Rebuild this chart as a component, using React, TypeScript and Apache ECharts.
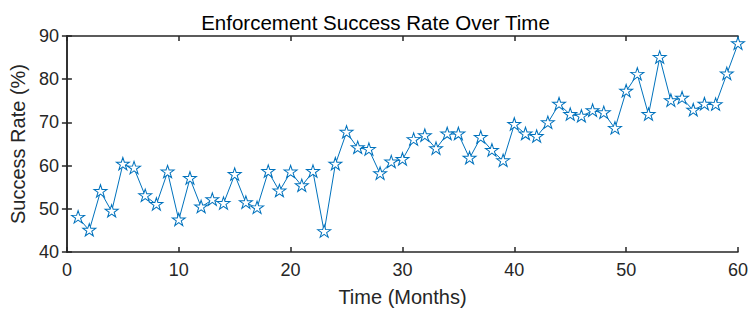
import React, { useEffect, useRef } from "react";
import * as echarts from "echarts";

const months: number[] = Array.from({ length: 60 }, (_, i) => i + 1);
const successRate: number[] = [
  48.0, 45.0, 54.0, 49.4, 60.3, 59.4, 53.0, 51.0, 58.5, 47.4,
  57.0, 50.4, 52.1, 51.2, 57.9, 51.4, 50.2, 58.6, 54.1, 58.5,
  55.3, 58.6, 44.7, 60.3, 67.7, 64.1, 63.7, 58.1, 60.8, 61.4,
  66.0, 66.9, 63.9, 67.3, 67.3, 61.7, 66.5, 63.5, 61.1, 69.5,
  67.3, 66.7, 69.9, 74.2, 71.8, 71.4, 72.7, 72.2, 68.6, 77.2,
  81.1, 71.8, 85.0, 75.0, 75.6, 72.8, 74.2, 74.1, 81.2, 88.2,
];
const xTicks = { min: 0, max: 60, interval: 10 };
const yTicks = { min: 40, max: 90, interval: 10 };

const STAR =
  "path://M0,-50L11.23,-15.45L47.55,-15.45L18.17,5.9L29.39,40.45L0,19.1L-29.39,40.45L-18.17,5.9L-47.55,-15.45L-11.23,-15.45Z";

const FONT = "'Liberation Sans', Arial, Helvetica, sans-serif";
const AX = "#262626";
const BLUE = "#0072BD";

export default function App() {
  const ref = useRef<HTMLDivElement>(null);
  useEffect(() => {
    if (!ref.current) return;
    const chart = echarts.init(ref.current, undefined, { renderer: "svg" });
    const axisCommon = {
      type: "value" as const,
      axisLine: { show: true, lineStyle: { color: AX, width: 1.5 } },
      axisTick: { show: true, inside: true, length: 5, lineStyle: { color: AX, width: 1.5 } },
      splitLine: { show: false },
    };
    chart.setOption({
      animation: false,
      backgroundColor: "#ffffff",
      textStyle: { fontFamily: FONT },
      title: {
        text: "Enforcement Success Rate Over Time",
        left: "center",
        top: 7,
        textStyle: { fontFamily: FONT, fontSize: 20.5, fontWeight: "normal", color: "#000" },
      },
      grid: { left: 65, right: 9, top: 36, bottom: 55, containLabel: false },
      xAxis: [
        {
          ...axisCommon,
          ...xTicks,
          position: "bottom",
          name: "Time (Months)",
          nameLocation: "middle",
          nameGap: 35,
          nameTextStyle: { fontFamily: FONT, fontSize: 20, color: AX },
          axisLabel: { fontFamily: FONT, fontSize: 18, color: AX, margin: 9 },
        },
        {
          ...axisCommon,
          ...xTicks,
          position: "top",
          axisLabel: { show: false },
        },
      ],
      yAxis: [
        {
          ...axisCommon,
          ...yTicks,
          position: "left",
          name: "Success Rate (%)",
          nameLocation: "middle",
          nameGap: 34,
          nameTextStyle: { fontFamily: FONT, fontSize: 20, color: AX },
          axisLabel: { fontFamily: FONT, fontSize: 18, color: AX, margin: 8 },
        },
        {
          ...axisCommon,
          ...yTicks,
          position: "right",
          axisLabel: { show: false },
        },
      ],
      series: [
        {
          type: "line",
          xAxisIndex: 0,
          yAxisIndex: 0,
          data: months.map((m, i) => [m, successRate[i]]),
          symbol: STAR,
          symbolSize: [13, 12.4],
          symbolOffset: [0, -0.6],
          showAllSymbol: true,
          lineStyle: { color: BLUE, width: 1 },
          itemStyle: { color: "#ffffff", borderColor: BLUE, borderWidth: 1 },
          clip: false,
        },
      ],
    });
    return () => chart.dispose();
  }, []);
  return (
    <div
      ref={ref}
      style={{ position: "fixed", left: 0, top: 0, width: 751, height: 312 }}
    />
  );
}
